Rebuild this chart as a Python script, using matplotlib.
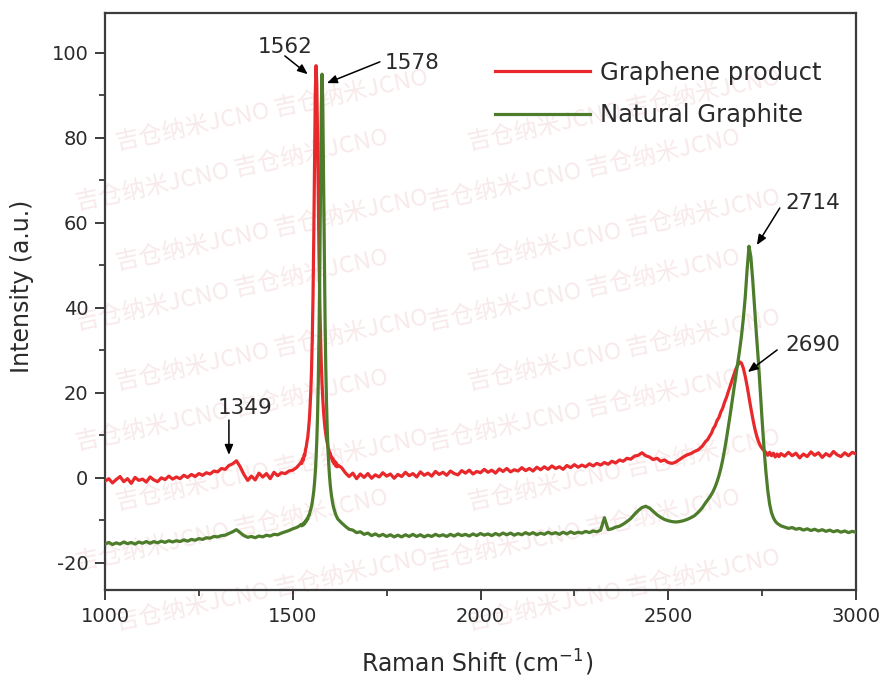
import numpy as np
import matplotlib
matplotlib.use("Agg")
import matplotlib.pyplot as plt

# ---------------- data ----------------
# x sampling: segments (start, step); values are listed per segment
SEG_START = [1000, 1522, 1630, 2605, 2810]
SEG_STEP = [10, 2, 10, 5, 10]

red_a = [-0.8, -0.2, -1.2, -0.4, 0.3, -0.9, -0.2, -1.3, 0.1, -0.6,
         -0.3, -1.0, 0.2, -0.5, -0.9, 0.0, -0.4, 0.4, -0.3, 0.2,
         -0.2, 0.6, 0.1, 0.8, 0.3, 1.0, 0.6, 1.2, 0.9, 1.6,
         1.4, 2.2, 2.0, 2.9, 3.3, 4.0, 2.6, 0.8, -0.6, 0.4,
         -0.5, 1.1, 0.2, 1.0, -0.2, 1.3, 0.5, 1.2, 1.0, 1.6,
         1.8, 2.4, 3.4]
red_b = [3.7, 3.4, 4.5, 4.1, 5.4, 5.2, 6.7, 7.3, 8.6, 9.6,
         11.4, 13.5, 16.4, 20.2, 25.4, 32.7, 42.8, 56.7, 73.9, 90.4,
         97.0,
         92.7, 80.2, 65.6, 52.2, 41.5, 33.2, 26.9, 22.2, 18.5, 15.6,
         13.4, 11.6, 10.2, 9.0, 8.2, 7.0, 6.7, 5.6, 5.8, 4.7,
         4.9, 3.9, 4.4, 3.3, 3.9, 2.8, 3.5, 2.6, 3.0]
red_c = [2.4, 1.2, 0.3, 1.1, -0.2, 0.9, 0.1, 1.0, -0.1, 0.7,
         0.2, 1.2, 0.4, 0.9, -0.1, 0.8, 0.3, 1.3, 0.5, 1.0,
         0.2, 1.4, 0.6, 1.1, 0.4, 1.5, 0.8, 1.3, 0.6, 1.6,
         1.0, 0.7, 1.7, 1.1, 1.8, 0.9, 1.5, 1.2, 2.0, 1.3,
         1.8, 1.1, 2.1, 1.5, 2.2, 1.4, 1.9, 1.6, 2.4, 1.7,
         2.2, 1.6, 2.5, 1.9, 2.6, 2.0, 2.8, 2.2, 2.6, 2.0,
         2.9, 2.4, 3.1, 2.5, 3.0, 2.6, 3.3, 2.8, 3.4, 3.0,
         3.6, 3.2, 3.9, 3.5, 4.2, 3.9, 4.6, 4.4, 5.1, 5.3,
         5.9, 5.2, 4.9, 4.3, 4.6, 3.9, 4.2, 3.6, 3.4, 3.7,
         4.3, 4.9, 5.4, 5.7, 6.2, 6.6, 7.4, 8.6]
red_d = [9.0, 9.8, 10.5, 11.6, 12.3, 13.5, 14.2, 15.5, 16.4, 17.8,
         18.9, 20.3, 21.6, 23.0, 24.3, 25.6, 26.5, 27.3, 27.0, 25.8,
         23.9, 21.6, 19.0, 16.4, 14.0, 11.8, 10.0, 8.6, 7.6, 6.9,
         6.4, 6.0, 5.3, 6.0, 5.2, 5.8, 4.9, 5.6, 5.0, 5.7]
red_e = [5.1, 6.0, 5.2, 5.8, 4.7, 5.6, 5.0, 6.1, 5.3, 5.9,
         4.8, 5.7, 5.1, 6.2, 5.4, 5.0, 5.9, 5.2, 6.0, 5.6]

green_a = [-15.6, -15.2, -15.7, -15.3, -15.6, -15.1, -15.5, -15.2, -15.6, -15.1,
           -15.4, -15.0, -15.4, -15.0, -15.3, -14.9, -15.2, -14.8, -15.1, -14.8,
           -15.0, -14.6, -14.9, -14.5, -14.7, -14.3, -14.5, -14.1, -14.2, -13.8,
           -13.9, -13.6, -13.5, -13.1, -12.7, -12.2, -12.9, -13.6, -14.0, -13.8,
           -14.1, -13.7, -13.9, -13.5, -13.7, -13.3, -13.4, -13.0, -12.7, -12.4,
           -12.0, -11.7, -11.2]
green_b = [-11.0, -11.3, -10.9, -11.1, -10.6, -10.8, -10.1, -10.3, -9.6, -9.7,
           -8.9, -8.8, -8.0, -7.4, -6.7, -5.7, -4.5, -3.1, -1.2, 1.2,
           4.4, 8.6, 14.4, 22.5, 33.8, 49.2, 68.4, 86.8, 95.0,
           87.8, 71.1, 52.9, 37.5, 25.9, 17.3, 11.1, 6.5, 3.0, 0.3,
           -1.8, -3.4, -4.7, -5.8, -6.7, -7.4, -8.0, -8.5, -9.0, -9.3,
           -9.7]
green_c = [-10.6, -11.4, -12.1, -12.3, -12.9, -12.7, -13.3, -13.0, -13.6, -13.2,
           -13.7, -13.3, -13.8, -13.4, -13.9, -13.5, -13.9, -13.4, -13.8, -13.3,
           -13.8, -13.4, -13.9, -13.5, -13.8, -13.3, -13.7, -13.4, -13.8, -13.3,
           -13.7, -13.2, -13.6, -13.3, -13.7, -13.2, -13.6, -13.1, -13.5, -13.2,
           -13.6, -13.1, -13.5, -13.0, -13.4, -13.0, -13.5, -13.1, -13.4, -12.9,
           -13.3, -12.9, -13.4, -13.0, -13.3, -12.8, -13.2, -12.9, -13.3, -12.8,
           -13.2, -12.7, -13.1, -12.8, -13.0, -12.6, -12.9, -12.5, -12.7, -12.3,
           -9.4, -12.2, -12.0, -11.6, -11.4, -10.9, -10.3, -9.6, -8.6, -7.7,
           -7.0, -6.7, -7.1, -7.9, -8.7, -9.3, -9.8, -10.1, -10.3, -10.4,
           -10.3, -10.1, -9.8, -9.4, -8.9, -8.1, -7.1, -5.8]
green_d = [-5.2, -4.6, -3.9, -3.1, -2.1, -0.9, 0.5, 2.2, 4.2, 6.6,
           9.2, 12.0, 14.9, 18.0, 21.0, 24.0, 27.0, 30.0, 33.4, 37.5,
           42.5, 49.0, 54.5, 52.0, 46.5, 40.0, 33.5, 27.5, 20.5, 13.5,
           7.0, 1.5, -3.0, -6.2, -8.2, -9.4, -10.2, -10.7, -11.0, -11.3]
green_e = [-11.6, -11.9, -11.7, -12.1, -11.9, -12.3, -12.0, -12.4, -12.1, -12.5,
           -12.2, -12.6, -12.3, -12.7, -12.4, -12.8, -12.5, -12.9, -12.6, -12.8]

series_names = ["Graphene product", "Natural Graphite"]
peak_labels = ["1562", "1578", "2714", "2690", "1349"]
watermark = "吉仓纳米JCNO 吉仓纳米JCNO"

x_ticks = [1000, 1500, 2000, 2500, 3000]
y_ticks = [-20, 0, 20, 40, 60, 80, 100]


def build(segs):
    xs, ys = [], []
    for start, step, vals in zip(SEG_START, SEG_STEP, segs):
        xs.append(start + step * np.arange(len(vals)))
        ys.append(np.asarray(vals, dtype=float))
    return np.concatenate(xs), np.concatenate(ys)


x_red, y_red = build([red_a, red_b, red_c, red_d, red_e])
x_grn, y_grn = build([green_a, green_b, green_c, green_d, green_e])

# ---------------- figure ----------------
plt.rcParams['font.family'] = ['DejaVu Sans']
plt.rcParams['axes.unicode_minus'] = False
TXT = '#2a2a2a'
RED = '#e8282a'
GRN = '#4d7c2a'
W, H = 886, 683

fig = plt.figure(figsize=(8.86, 6.83), dpi=100)

# faint watermark, kept inside the figure, drawn beneath the axes
for row in range(9):
    py = 150 + row * 60
    for col, px0 in enumerate([118, 470]):
        px = px0 - 40 * (row % 2)
        fig.text(px / W, 1 - py / H, watermark, rotation=12,
                 rotation_mode='anchor', ha='left', va='baseline',
                 fontsize=17, color='#f8eaea',
                 family=['Noto Sans CJK SC', 'DejaVu Sans'], zorder=-5)

ax = fig.add_axes([105 / W, 1 - 590 / H, 751 / W, 577 / H])
ax.patch.set_alpha(0)

ax.plot(x_red, y_red, color=RED, lw=2.3, label=series_names[0], zorder=3)
ax.plot(x_grn, y_grn, color=GRN, lw=2.3, label=series_names[1], zorder=3)

ax.set_xlim(1000, 3000)
ax.set_ylim(-26.4, 109.4)
ax.set_xticks(x_ticks)
ax.set_yticks(y_ticks)
ax.set_xticks(np.arange(1250, 3000, 500), minor=True)
ax.set_yticks(np.arange(-10, 110, 20), minor=True)

for s in ax.spines.values():
    s.set_color('#3c3c3c')
    s.set_linewidth(1.6)
ax.tick_params(which='both', direction='out', colors='#3c3c3c',
               labelcolor=TXT, top=False, right=False)
ax.tick_params(which='major', length=7, width=1.4, labelsize=14)
ax.tick_params(which='minor', length=4, width=1.3)
ax.tick_params(axis='y', which='major', pad=5)
ax.tick_params(axis='x', which='major', pad=5)

ax.set_xlabel("Raman Shift (cm$^{-1}$)", fontsize=17, color=TXT)
ax.set_ylabel("Intensity (a.u.)", fontsize=17, color=TXT)
ax.xaxis.set_label_coords(0.495, -0.10)
ax.yaxis.set_label_coords(-0.095, 0.527)

leg = ax.legend(loc='upper left', bbox_to_anchor=(0.519, 0.917), frameon=False,
                fontsize=17.5, handlelength=3.9, handletextpad=0.45,
                labelspacing=0.75, borderpad=0, borderaxespad=0)
for t in leg.get_texts():
    t.set_color(TXT)

# peak annotations
ann_fs = 15.5
arrow_kw = dict(arrowstyle='-|>,head_length=0.6,head_width=0.25', color='black',
                lw=1.1, shrinkA=0, shrinkB=0)
text_pos = [(1479, 101.5), (1818, 97.6), (2885, 64.7), (2885, 31.3), (1373, 16.5)]
arrow_tail = [(1479, 99.3), (1732, 97.9), (2797, 63.5), (2790, 30.1), (1330, 13.6)]
arrow_head = [(1540, 95.0), (1591, 92.9), (2736, 54.8), (2712, 24.9), (1330, 5.4)]
for lab, tp, at, ah in zip(peak_labels, text_pos, arrow_tail, arrow_head):
    ax.text(tp[0], tp[1], lab, fontsize=ann_fs, color=TXT, ha='center',
            va='center', zorder=5)
    ax.annotate('', xy=ah, xytext=at, arrowprops=arrow_kw, zorder=5)

fig.savefig('out.png', dpi=100)
